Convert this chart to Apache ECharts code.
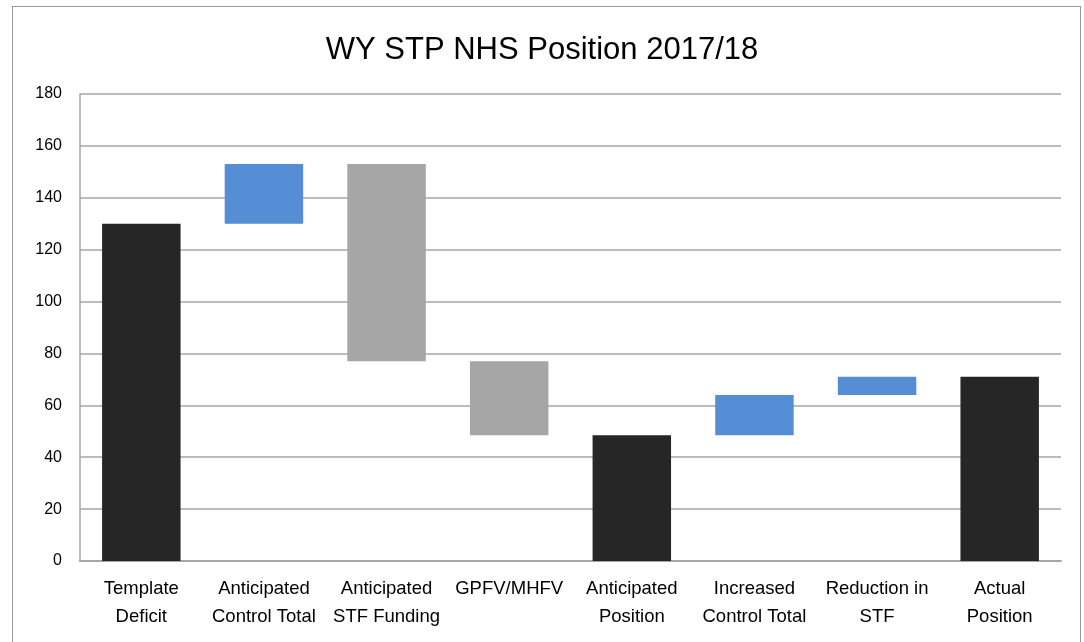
<!DOCTYPE html>
<html>
<head>
<meta charset="utf-8">
<title>WY STP NHS Position 2017/18</title>
<script src="https://cdn.jsdelivr.net/npm/echarts@6/dist/echarts.min.js"></script>
<style>
  body { margin: 0; background: #fff; }
  /* outer frame of the chart */
  #frame {
    position: absolute; left: 12px; top: 6px;
    width: 1069px; height: 650px;
    border: 1px solid #9a9a9a; box-sizing: border-box;
  }
  #main { position: absolute; left: 0; top: 0; width: 1084px; height: 642px; }
</style>
</head>
<body>
<div id="frame"></div>
<div id="main"></div>
<script>
// categories and bar extents (bottom / top of each floating bar)
var categories = ['Template\nDeficit', 'Anticipated\nControl Total', 'Anticipated\nSTF Funding', 'GPFV/MHFV',
                  'Anticipated\nPosition', 'Increased\nControl Total', 'Reduction in\nSTF', 'Actual\nPosition'];
var barLow  = [0,   130, 77,  48.5, 0,    48.5, 64, 0];
var barHigh = [130, 153, 153, 77,   48.5, 64,   71, 71];
var barKind = ['total', 'up', 'down', 'down', 'total', 'up', 'up', 'total'];
var yTicks  = [0, 20, 40, 60, 80, 100, 120, 140, 160, 180];

var kindColor = { total: '#262626', up: '#558ed5', down: '#a6a6a6' };
var font = '"Liberation Sans Narrow", "Liberation Sans", sans-serif';

var chart = echarts.init(document.getElementById('main'));

var option = {
  animation: false,
  title: {
    text: 'WY STP NHS Position 2017/18',
    left: 'center', top: 30,
    textStyle: { fontFamily: font, fontSize: 31, fontWeight: 'normal', color: '#000' }
  },
  grid: { left: 80, right: 23, top: 94, bottom: 81 },
  xAxis: {
    type: 'category',
    data: categories,
    axisLine: { lineStyle: { color: '#a6a6a6', width: 2 } },
    axisTick: { show: false },
    axisLabel: { interval: 0, fontFamily: font, fontSize: 18.5, color: '#000', lineHeight: 28, margin: 14 }
  },
  yAxis: {
    type: 'value',
    min: yTicks[0], max: yTicks[yTicks.length - 1], interval: 20,
    axisLine: { show: true, lineStyle: { color: '#a6a6a6', width: 1.5 } },
    axisTick: { show: false },
    axisLabel: { fontFamily: font, fontSize: 16, color: '#000', margin: 18 },
    splitLine: { lineStyle: { color: '#a6a6a6', width: 1.5 } }
  },
  series: [
    {
      // invisible base that lifts each floating bar
      type: 'bar', stack: 'w', barWidth: '64%',
      itemStyle: { color: 'transparent' },
      data: barLow
    },
    {
      type: 'bar', stack: 'w', barWidth: '64%',
      data: barHigh.map(function (h, i) {
        return { value: +(h - barLow[i]).toFixed(2), itemStyle: { color: kindColor[barKind[i]] } };
      })
    }
  ]
};
chart.setOption(option);
</script>
</body>
</html>
